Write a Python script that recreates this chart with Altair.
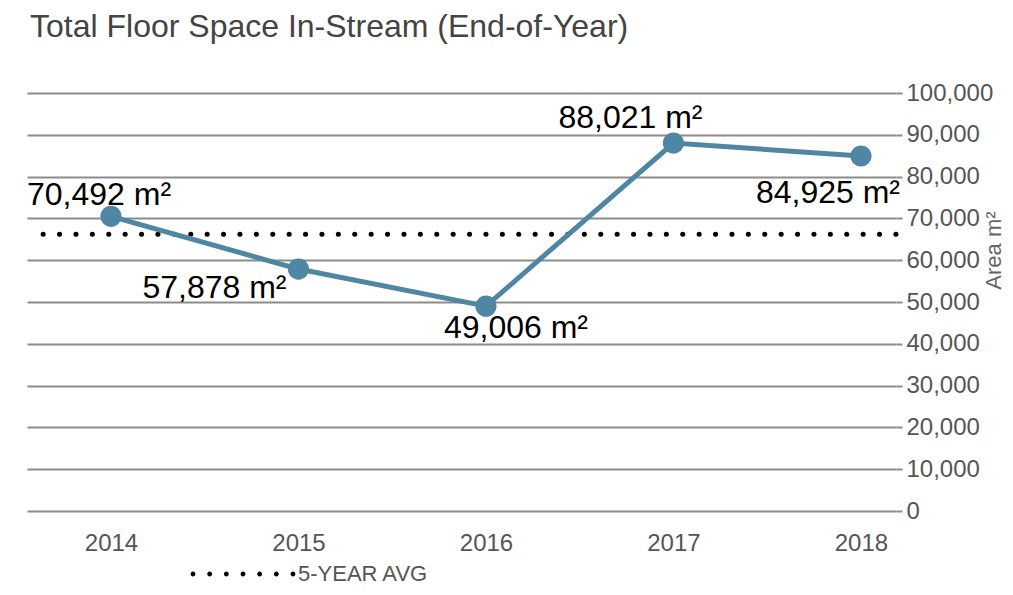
import altair as alt
import pandas as pd

years = [2014, 2015, 2016, 2017, 2018]
values = [70492, 57878, 49006, 88021, 84925]
avg_value = 66200
avg_label = "5-YEAR AVG"
y_ticks = [0, 10000, 20000, 30000, 40000, 50000, 60000, 70000, 80000, 90000, 100000]

df = pd.DataFrame({"year": years, "value": values})
df["label"] = [f"{v:,} m²" for v in values]
avg_df = pd.DataFrame({"avg": [avg_value], "series": [avg_label]})

FONT = "Liberation Sans"
LINE_COLOR = "#4f86a3"
GRID = "#8c8c8c"

# legend symbol: a row of small filled circles (dotted line look)
R = 0.048
dot_path = " ".join(
    f"M{-1 + k * 2 / 6 - R:.4f},0 a{R},{R} 0 1,0 {2 * R:.4f},0 a{R},{R} 0 1,0 {-2 * R:.4f},0 Z"
    for k in range(7)
)

x_enc = alt.X("year:Q",
              scale=alt.Scale(domain=[2013.552, 2018.187], nice=False, zero=False),
              axis=alt.Axis(values=years, format="d", title=None, grid=False, domain=False,
                            ticks=False, labelFontSize=24, labelColor="#555555",
                            labelFont=FONT, labelPadding=20))
y_enc = alt.Y("value:Q",
              scale=alt.Scale(domain=[0, 100000], nice=False),
              axis=alt.Axis(orient="right", values=y_ticks, format=",d", title="Area m²",
                            grid=True, gridColor=GRID, gridWidth=2, domain=False,
                            ticks=True, tickColor=GRID, tickWidth=2, tickSize=6,
                            labelFontSize=24, labelColor="#555555", labelFont=FONT,
                            labelPadding=4, titleFont=FONT, titleFontSize=22,
                            titleFontWeight="normal", titleColor="#666666",
                            titleAngle=270, titleX=97, titleY=157,
                            titleAlign="center", titleBaseline="middle"))

base = alt.Chart(df)

line = base.mark_line(color=LINE_COLOR, strokeWidth=5).encode(x=x_enc, y=y_enc)
points = base.mark_point(filled=True, color=LINE_COLOR, size=450, opacity=1).encode(
    x="year:Q", y="value:Q")

avg_rule = alt.Chart(avg_df).mark_rule(
    strokeWidth=5, strokeCap="round", strokeDash=[0.1, 16.3]
).encode(
    y=alt.Y("avg:Q"),
    color=alt.Color("series:N",
                    scale=alt.Scale(range=["#000000"]),
                    legend=alt.Legend(title=None, orient="none", legendX=166, legendY=431,
                                      symbolType=dot_path, symbolSize=10000,
                                      symbolStrokeWidth=0, symbolFillColor="#000000",
                                      symbolStrokeColor="#000000",
                                      labelFont=FONT, labelFontSize=22,
                                      labelColor="#555555", labelOffset=5))
)

label_offsets = {2014: (-12, -11), 2015: (-84, 29), 2016: (30, 32),
                 2017: (-43, -15), 2018: (-33, 47)}
label_layers = []
for yr, (ddx, ddy) in label_offsets.items():
    label_layers.append(
        base.transform_filter(alt.datum.year == yr).mark_text(
            font=FONT, fontSize=32, color="#000000", align="center",
            baseline="alphabetic", dx=ddx, dy=ddy
        ).encode(x="year:Q", y="value:Q", text="label:N")
    )

chart = alt.layer(avg_rule, line, points, *label_layers).properties(
    width=869, height=418,
    autosize=alt.AutoSizeParams(type="none"),
    padding={"left": 19, "top": 85, "right": 109, "bottom": 76},
    title=alt.TitleParams("Total Floor Space In-Stream (End-of-Year)", anchor="start",
                          frame="group", font=FONT, fontSize=32, fontWeight="normal",
                          color="#444444", baseline="alphabetic", offset=12, dx=3)
).configure_view(stroke=None)

chart.save("out.html", embed_options={"renderer": "svg", "actions": False})
